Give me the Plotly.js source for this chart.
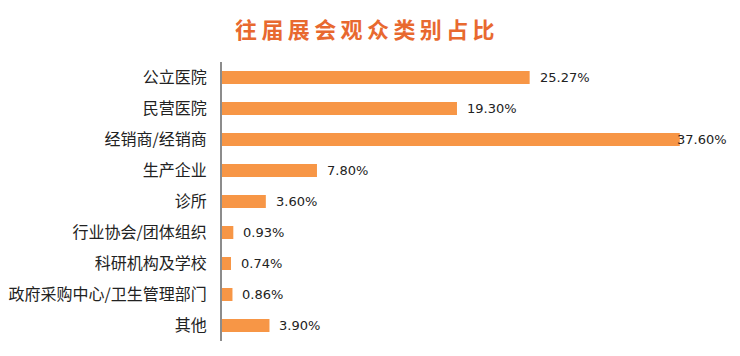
<!DOCTYPE html>
<html><head><meta charset="utf-8">
<script src="https://cdn.plot.ly/plotly-3.0.1.min.js"></script>
<style>html,body{margin:0;padding:0;background:#fff}#c{width:740px;height:356px}</style>
</head><body><div id="c"></div>
<script>
const categories = ["公立医院","民营医院","经销商/经销商","生产企业","诊所","行业协会/团体组织","科研机构及学校","政府采购中心/卫生管理部门","其他"];
const values = [25.27,19.30,37.60,7.80,3.60,0.93,0.74,0.86,3.90];
const labels = ["25.27%","19.30%","37.60%","7.80%","3.60%","0.93%","0.74%","0.86%","3.90%"];
const titleText = "往届展会观众类别占比";

const font = "DejaVu Sans, 'Noto Sans CJK SC', sans-serif";
const trace = {
  type: 'bar', orientation: 'h',
  x: values, y: categories,
  marker: {color: '#F79646'},
  hoverinfo: 'none'
};
const annotations = values.map((v, i) => ({
  x: v, y: categories[i], xref: 'x', yref: 'y',
  text: labels[i], showarrow: false, xanchor: 'left', xshift: i === 2 ? -5 : 8,
  font: {family: font, size: 13, color: '#222'}
}));
const layout = {
  width: 740, height: 356,
  margin: {l: 222, r: 31, t: 62, b: 15},
  paper_bgcolor: '#fff', plot_bgcolor: '#fff',
  bargap: 0.58,
  title: {text: '<b>' + titleText.split('').join('\u2009') + '</b>', x: 0.493, xanchor: 'center', y: 0.915, yanchor: 'middle',
    font: {family: "'Noto Sans CJK SC', sans-serif", size: 22, color: '#E8692F'}},
  xaxis: {range: [0, 40], showgrid: false, zeroline: false, showticklabels: false, showline: false, ticks: ''},
  yaxis: {autorange: 'reversed', type: 'category', showgrid: false, zeroline: false,
    showline: true, linecolor: '#8c8c8c', linewidth: 2, ticks: '', ticklen: 0, ticklabelstandoff: 10,
    tickfont: {family: "'Noto Sans CJK SC', sans-serif", size: 16, color: '#222'}, automargin: false},
  annotations: annotations,
  showlegend: false
};
Plotly.newPlot('c', [trace], layout, {displayModeBar: false, staticPlot: true});
</script></body></html>
